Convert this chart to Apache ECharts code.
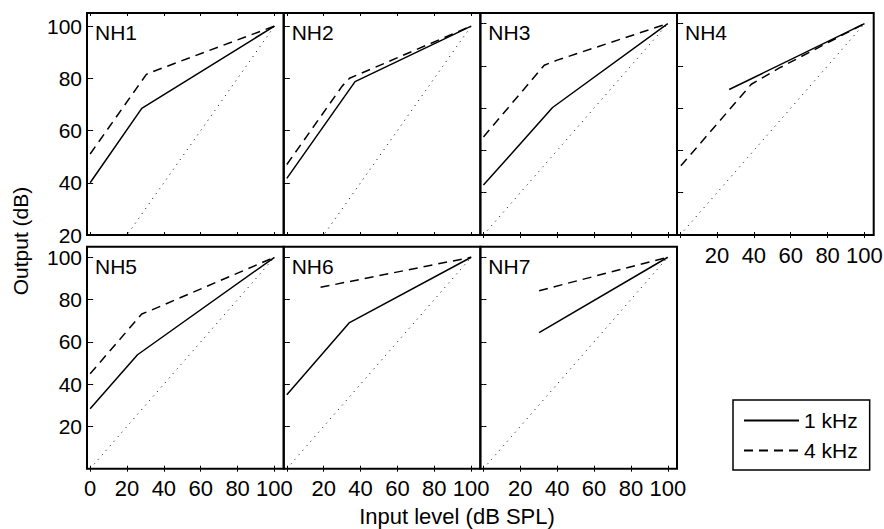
<!DOCTYPE html>
<html>
<head>
<meta charset="utf-8">
<script src="https://cdn.jsdelivr.net/npm/echarts@6/dist/echarts.min.js"></script>
<style>
  html, body { margin: 0; padding: 0; background: #fff; }
  #chart { width: 884px; height: 529px; }
</style>
</head>
<body>
<div id="chart"></div>
<script>
// panel names, in reading order
const panelNames = ['NH1', 'NH2', 'NH3', 'NH4', 'NH5', 'NH6', 'NH7'];

// input/output curves, [input dB SPL, output dB]
const nh1_1k = [[0, 40], [28, 68.5], [100, 100]];
const nh1_4k = [[0, 51], [30.5, 81.5], [33, 82.3], [100, 100]];
const nh2_1k = [[0, 41.7], [37, 78.7], [100, 100]];
const nh2_4k = [[0, 47], [30, 77], [34, 80], [100, 100]];
const nh3_1k = [[0, 23.6], [37.5, 60.3], [100, 100]];
const nh3_4k = [[0, 46.4], [33, 80.3], [40, 82.7], [100, 100]];
const nh4_1k = [[26.6, 68.8], [100, 100]];
const nh4_4k = [[0.4, 32.7], [38.6, 71.3], [53.6, 78.9], [100, 100]];
const nh5_1k = [[0, 28.3], [25.7, 53.9], [100, 100]];
const nh5_4k = [[0, 44.9], [28, 73.2], [33.5, 75.1], [100, 100]];
const nh6_1k = [[0, 35], [34, 69.1], [100, 100]];
const nh6_4k = [[18.3, 85.8], [100, 100]];
const nh7_1k = [[30.2, 64.4], [100, 100]];
const nh7_4k = [[30.2, 84.2], [100, 100]];
const unity = [[0, 0], [100, 100]];

const curves1k = [nh1_1k, nh2_1k, nh3_1k, nh4_1k, nh5_1k, nh6_1k, nh7_1k];
const curves4k = [nh1_4k, nh2_4k, nh3_4k, nh4_4k, nh5_4k, nh6_4k, nh7_4k];

// ticks and labels
const xTicks = [0, 20, 40, 60, 80, 100];
const xLabelsFirst = [0, 20, 40, 60, 80, 100];
const xLabelsOther = [20, 40, 60, 80, 100];
const yTicks = [0, 20, 40, 60, 80, 100];
const yLabels = [20, 40, 60, 80, 100];
// y-axis bottom per panel (NH1, NH2 start at 20)
const yMins = [20, 20, 0, 0, 0, 0, 0];

const FONT = 'Liberation Sans, Arial, Helvetica, sans-serif';
const colLeft = [87, 283.7, 480.3, 677];
const rowTop = [13, 246.7];
const W = 196.7, H = 222;

const grids = [], xAxes = [], yAxes = [], series = [], graphics = [];
const tick = { show: true, inside: true, length: 3, customValues: xTicks, lineStyle: { color: '#000', width: 1 } };

panelNames.forEach((name, i) => {
    const row = i < 4 ? 0 : 1, col = i < 4 ? i : i - 4;
    const left = colLeft[col], top = rowTop[row];
    grids.push({
        left: left, top: top, width: W, height: H,
        show: true, borderColor: '#000', borderWidth: 2,
        containLabel: false, outerBoundsMode: 'none'
    });
    const showX = row === 1 || i === 3;
    const xBase = { gridIndex: i, type: 'value', min: -1.7, max: 105, splitLine: { show: false }, axisLine: { show: false } };
    xAxes.push(Object.assign({}, xBase, {
        position: 'bottom',
        axisTick: tick,
        axisLabel: {
            show: showX, customValues: col === 0 ? xLabelsFirst : xLabelsOther,
            color: '#000', fontSize: 22, fontFamily: FONT, margin: 9
        }
    }));
    xAxes.push(Object.assign({}, xBase, { position: 'top', axisTick: tick, axisLabel: { show: false } }));

    const yBase = { gridIndex: i, type: 'value', min: yMins[i], max: 105, splitLine: { show: false }, axisLine: { show: false } };
    const yTick = Object.assign({}, tick, { customValues: yTicks.filter(v => v >= yMins[i]) });
    yAxes.push(Object.assign({}, yBase, {
        position: 'left',
        axisTick: yTick,
        axisLabel: {
            show: col === 0, customValues: yLabels,
            color: '#000', fontSize: 21, lineHeight: 17, fontFamily: FONT, margin: 5
        }
    }));
    yAxes.push(Object.assign({}, yBase, { position: 'right', axisTick: yTick, axisLabel: { show: false } }));

    const common = {
        type: 'line', xAxisIndex: 2 * i, yAxisIndex: 2 * i, symbol: 'none',
        silent: true, clip: true, animation: false, itemStyle: { color: '#000', opacity: 0 }
    };
    series.push(Object.assign({}, common, { name: '1 kHz', data: curves1k[i], lineStyle: { color: '#000', width: 1.5, type: 'solid' } }));
    series.push(Object.assign({}, common, { name: '4 kHz', data: curves4k[i], lineStyle: { color: '#000', width: 1.5, type: [9, 6] } }));
    series.push(Object.assign({}, common, { name: 'unity', data: unity, lineStyle: { color: '#000', width: 1, type: [1, 5] } }));

    graphics.push({
        type: 'text', left: left + 8, top: top + 9,
        style: { text: name, fontSize: 21, fontFamily: FONT, fill: '#000' }
    });
});

graphics.push({
    type: 'text', x: 20, y: 241, rotation: Math.PI / 2,
    style: { text: 'Output (dB)', fontSize: 21, fontFamily: FONT, fill: '#000', align: 'center', verticalAlign: 'middle' }
});
graphics.push({
    type: 'text', x: 457, y: 516,
    style: { text: 'Input level (dB SPL)', fontSize: 22, fontFamily: FONT, fill: '#000', align: 'center', verticalAlign: 'middle' }
});

const chart = echarts.init(document.getElementById('chart'), null, { renderer: 'svg' });
chart.setOption({
    animation: false,
    backgroundColor: '#fff',
    grid: grids,
    xAxis: xAxes,
    yAxis: yAxes,
    series: series,
    graphic: graphics,
    legend: {
        data: ['1 kHz', '4 kHz'],
        orient: 'vertical',
        left: 733, top: 400,
        padding: [10, 12, 9, 10],
        itemWidth: 55, itemHeight: 20, itemGap: 9,
        borderColor: '#000', borderWidth: 1.5,
        selectedMode: false,
        itemStyle: { opacity: 0 },
        textStyle: { color: '#000', fontSize: 21, fontFamily: FONT, lineHeight: 20 }
    }
});
</script>
</body>
</html>
